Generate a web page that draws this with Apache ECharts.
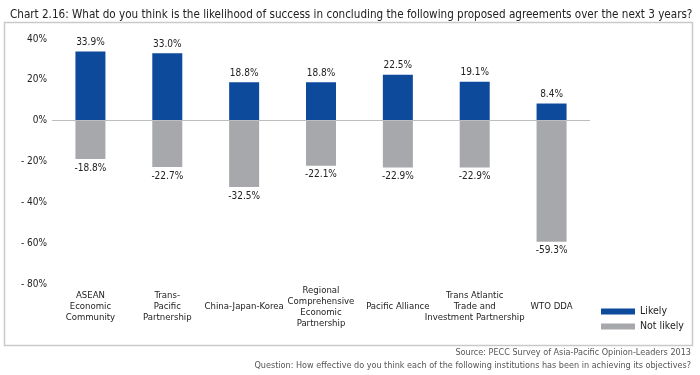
<!DOCTYPE html>
<html>
<head>
<meta charset="utf-8">
<script src="https://cdn.jsdelivr.net/npm/echarts@6/dist/echarts.min.js"></script>
<style>
  html, body { margin: 0; padding: 0; background: #fff; }
  #chart { width: 700px; height: 375px; }
</style>
</head>
<body>
<div id="chart"></div>
<script>
// data
var categories = [
  'ASEAN\nEconomic\nCommunity',
  'Trans-\nPacific\nPartnership',
  'China-Japan-Korea',
  'Regional\nComprehensive\nEconomic\nPartnership',
  'Pacific Alliance',
  'Trans Atlantic\nTrade and\nInvestment Partnership',
  'WTO DDA'
];
var likely = [33.9, 33.0, 18.8, 18.8, 22.5, 19.1, 8.4];
var notLikely = [-18.8, -22.7, -32.5, -22.1, -22.9, -22.9, -59.3];
var yTicks = { min: -80, max: 40, interval: 20 };

var font = '"DejaVu Sans Condensed", "Liberation Sans Narrow", sans-serif';

var chart = echarts.init(document.getElementById('chart'));

function pct(p) { return p.value.toFixed(1) + '%'; }

var option = {
  animation: false,
  textStyle: { fontFamily: font },
  title: {
    text: 'Chart 2.16: What do you think is the likelihood of success in concluding the following proposed agreements over the next 3 years?',
    left: 5,
    top: 4,
    textStyle: { fontFamily: font, fontSize: 11.6, fontWeight: 'normal', color: '#222' }
  },
  graphic: [
    {
      type: 'rect',
      shape: { x: 4.5, y: 22.5, width: 688, height: 323 },
      style: { fill: 'none', stroke: '#c9c9c9', lineWidth: 1.5 },
      z: -1
    },
    {
      type: 'text',
      right: 9,
      top: 348,
      style: { text: 'Source: PECC Survey of Asia-Pacific Opinion-Leaders 2013', font: '9px ' + font, fill: '#555' }
    },
    {
      type: 'text',
      right: 9,
      top: 361,
      style: { text: 'Question: How effective do you think each of the following institutions has been in achieving its objectives?', font: '9px ' + font, fill: '#555' }
    }
  ],
  legend: {
    orient: 'vertical',
    left: 596,
    top: 301,
    itemWidth: 34,
    itemHeight: 6,
    itemGap: 4,
    icon: 'rect',
    textStyle: { fontFamily: font, fontSize: 10.5, color: '#222' },
    data: ['Likely', 'Not likely']
  },
  grid: { left: 52, right: 110, top: 39, bottom: 91 },
  xAxis: {
    type: 'category',
    data: categories,
    axisLine: { show: false, onZero: false },
    axisTick: { show: false },
    axisLabel: {
      interval: 0,
      margin: 23,
      verticalAlign: 'middle',
      fontSize: 9.5,
      lineHeight: 11,
      color: '#222',
      fontFamily: font
    }
  },
  yAxis: {
    type: 'value',
    min: yTicks.min,
    max: yTicks.max,
    interval: yTicks.interval,
    axisLine: { show: false },
    axisTick: { show: false },
    splitLine: { show: false },
    axisLabel: {
      margin: 5,
      fontSize: 10,
      color: '#222',
      fontFamily: font,
      formatter: function (v) {
        return v < 0 ? '- ' + (-v) + '%' : v + '%';
      }
    }
  },
  series: [
    {
      name: 'Likely',
      type: 'bar',
      stack: 'all',
      barWidth: 30,
      data: likely,
      itemStyle: { color: '#0d4a9c' },
      label: { show: true, position: 'top', distance: 4, fontSize: 10, color: '#222', fontFamily: font, formatter: pct },
      markLine: {
        silent: true,
        symbol: 'none',
        label: { show: false },
        lineStyle: { color: '#bdbdbd', width: 1, type: 'solid' },
        data: [{ yAxis: 0 }]
      }
    },
    {
      name: 'Not likely',
      type: 'bar',
      stack: 'all',
      barWidth: 30,
      data: notLikely,
      itemStyle: { color: '#a7a8ab' },
      label: { show: true, position: 'bottom', distance: 4, fontSize: 10, color: '#222', fontFamily: font, formatter: pct }
    }
  ]
};
chart.setOption(option);
</script>
</body>
</html>
